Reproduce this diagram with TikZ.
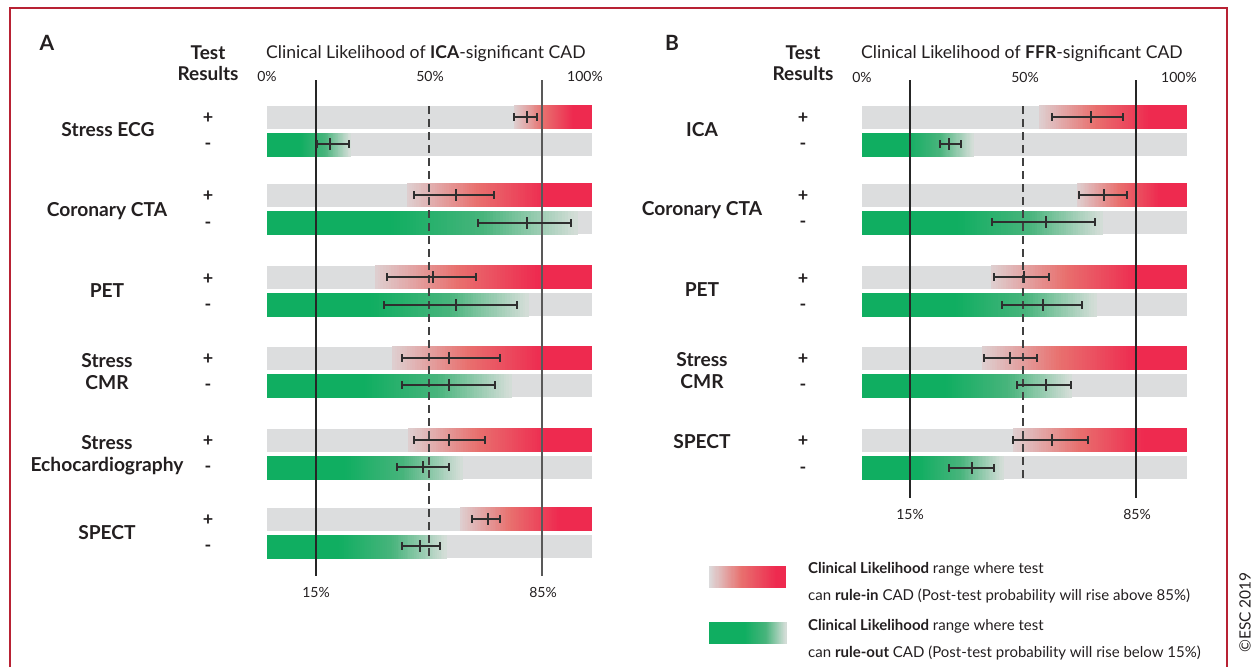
\documentclass[tikz,border=0pt]{standalone}
\usepackage{fontspec}
\setmainfont{Lato}
\definecolor{barg}{HTML}{DCDDDE}
\definecolor{rstart}{HTML}{DED0D1}
\definecolor{rred}{HTML}{EE2A4F}
\definecolor{salm}{HTML}{E8716F}
\definecolor{ggreen}{HTML}{10AE61}
\definecolor{gmid}{HTML}{48B47C}
\definecolor{gendc}{HTML}{D6DED9}
\definecolor{txt}{HTML}{231F20}
\definecolor{bord}{HTML}{B82234}
\definecolor{ebc}{HTML}{2E2E2E}
\tikzset{
  lab/.style={inner sep=0pt, text=txt, font=\fontsize{19.2}{22}\selectfont\bfseries, align=center},
  pm/.style={inner sep=0pt, text=txt, font=\fontsize{18}{20}\selectfont\bfseries, anchor=base},
  pct/.style={inner sep=0pt, text=txt, font=\fontsize{14}{16}\selectfont, anchor=base},
  ttl/.style={inner sep=0pt, text=txt, font=\fontsize{17.6}{19}\selectfont, anchor=base west},
  letter/.style={inner sep=0pt, text=txt, font=\fontsize{21}{24}\selectfont\bfseries, anchor=base},
  legt/.style={inner sep=0pt, text=txt, font=\fontsize{15}{18}\selectfont, anchor=base west},
  eb/.style={draw=ebc, line width=1.1pt},
  vline/.style={line width=1.4pt, draw=black!85},
  vlineb/.style={line width=1.8pt, draw=black!65},
  dline/.style={line width=1.4pt, draw=black!75, dash pattern=on 8pt off 5pt},
}
% horizontal gradient made of thin strips: xa, xb, ytop, ybot, colour at xa, colour at xb
\newcommand{\hgrad}[6]{%
  \foreach \kk in {0,...,29}{%
    \pgfmathsetmacro\gxl{#1+(#2-#1)*\kk/30}%
    \pgfmathsetmacro\gxr{#1+(#2-#1)*(\kk+1)/30+0.6}%
    \pgfmathtruncatemacro\gpp{round(100*(\kk+0.5)/30)}%
    \fill[#6!\gpp!#5] (\gxl,#3) rectangle (\gxr,#4);
  }%
}
\newcommand{\plusbar}[4]{%
  \pgfmathsetmacro\myge{#4+0.75*(#2-#4)}%
  \pgfmathsetmacro\mygm{(#4+\myge)/2}%
  \fill[barg] (#1,#3) rectangle (#2,#3+23);
  \hgrad{#4}{\mygm}{#3-1}{#3+23}{rstart}{salm}
  \hgrad{\mygm}{\myge}{#3-1}{#3+23}{salm}{rred}
  \fill[rred] (\myge,#3-1) rectangle (#2,#3+23);
}
\newcommand{\minusbar}[4]{%
  \pgfmathsetmacro\mygs{#1+0.4*(#4-#1)}%
  \pgfmathsetmacro\mygm{(\mygs+#4)/2}%
  \fill[barg] (#1,#3) rectangle (#2,#3+23);
  \fill[ggreen] (#1,#3) rectangle (\mygs+0.6,#3+24);
  \hgrad{\mygs}{\mygm}{#3}{#3+24}{ggreen}{gmid}
  \hgrad{\mygm}{#4}{#3}{#3+24}{gmid}{gendc}
}
\newcommand{\ebar}[4]{%
  \draw[eb] (#2,#1) -- (#4,#1);
  \draw[eb] (#2,#1-4) -- (#2,#1+4);
  \draw[eb] (#4,#1-4) -- (#4,#1+4);
  \draw[eb] (#3,#1-6) -- (#3,#1+6);
}
\begin{document}
\begin{tikzpicture}[x=1pt,y=-1pt]
\useasboundingbox (0,0) rectangle (1253,667);
% frame
\draw[bord, line width=2.2pt] (10,667) -- (10,8) -- (1227,8) -- (1227,667);
\node[inner sep=0pt, text=txt, font=\fontsize{15.5}{17}\selectfont, rotate=90, anchor=east] (esc) at (1245,572) {©ESC 2019};

% ================= Panel A =================
\node[letter] (la) at (47,50.5) {A};
\node[lab, font=\fontsize{19}{20.5}\selectfont\bfseries] (tra) at (208,63) {Test\\Results};
\node[ttl] (tta) at (266,58) {Clinical Likelihood of \textbf{ICA}-significant CAD};
\node[pct] (a0) at (267,81) {0\%};
\node[pct] (a50) at (430,81) {50\%};
\node[pct] (a100) at (585,81) {100\%};

\plusbar{267}{592}{106}{514}
\minusbar{267}{592}{133}{350}
\plusbar{267}{592}{184}{407}
\minusbar{267}{592}{211}{577}
\plusbar{267}{592}{266}{375}
\minusbar{267}{592}{293}{528}
\plusbar{267}{592}{347}{392}
\minusbar{267}{592}{374}{511}
\plusbar{267}{592}{429}{408}
\minusbar{267}{592}{456}{462}
\plusbar{267}{592}{508}{460}
\minusbar{267}{592}{535}{446}

\coordinate (a15t) at (316,80); \coordinate (a15b) at (316,576);
\coordinate (a85t) at (542,80); \coordinate (a85b) at (542,576);
\coordinate (a50t) at (429,106); \coordinate (a50b) at (429,557);
\draw[vline] (a15t) -- (a15b);
\draw[vlineb] (a85t) -- (a85b);
\draw[dline] (a50t) -- (a50b);

\ebar{117}{514}{527}{537}
\ebar{144}{317}{330}{349}
\ebar{195}{414}{456}{494}
\ebar{223}{478}{527}{571}
\ebar{277}{387}{433}{476}
\ebar{305}{384}{456}{517}
\ebar{358}{402}{449}{500}
\ebar{385}{402}{449}{495}
\ebar{440}{414}{449}{485}
\ebar{467}{397}{423}{449}
\ebar{519}{472}{488}{500}
\ebar{546}{402}{420}{440}

\node[pct] (a15) at (316,597) {15\%};
\node[pct] (a85) at (543,597) {85\%};

\node[lab, anchor=base] (ecg) at (108,136.5) {Stress ECG};
\node[lab, anchor=base] (ctaa) at (107,216.5) {Coronary CTA};
\node[lab, anchor=base] (peta) at (107,297.5) {PET};
\node[lab] (cmra) at (107,372) {Stress\\CMR};
\node[lab] (echo) at (107,455.5) {Stress\\Echocardiography};
\node[lab, anchor=base] (specta) at (107,539.5) {SPECT};

\foreach \yp/\ym [count=\i] in {117/144,195/223,278/305,358/385,440/467,519/546}{
  \node[pm] (ap\i) at (208,\yp+6) {+};
  \node[pm] (am\i) at (208,\ym+5) {-};
}

% ================= Panel B =================
\node[letter] (lb) at (672,50.5) {B};
\node[lab, font=\fontsize{19}{20.5}\selectfont\bfseries] (trb) at (803,63) {Test\\Results};
\node[ttl] (ttb) at (861,58) {Clinical Likelihood of \textbf{FFR}-significant CAD};
\node[pct] (b0) at (862,82) {0\%};
\node[pct] (b50) at (1025,82) {50\%};
\node[pct] (b100) at (1179,82) {100\%};

\plusbar{862}{1187}{106}{1039}
\minusbar{862}{1187}{133}{973}
\plusbar{862}{1187}{184}{1077}
\minusbar{862}{1187}{211}{1102}
\plusbar{862}{1187}{266}{991}
\minusbar{862}{1187}{293}{1096}
\plusbar{862}{1187}{347}{982}
\minusbar{862}{1187}{374}{1071}
\plusbar{862}{1187}{429}{1013}
\minusbar{862}{1187}{456}{1003}

\coordinate (b15t) at (910,80); \coordinate (b15b) at (910,498);
\coordinate (b85t) at (1136,80); \coordinate (b85b) at (1136,498);
\coordinate (b50t) at (1023,106); \coordinate (b50b) at (1023,478);
\draw[vline] (b15t) -- (b15b);
\draw[vline] (b85t) -- (b85b);
\draw[dline] (b50t) -- (b50b);

\ebar{117}{1052}{1091}{1123}
\ebar{144}{940}{949}{961}
\ebar{195}{1079}{1104}{1127}
\ebar{222}{992}{1046}{1095}
\ebar{277}{994}{1024}{1049}
\ebar{305}{1002}{1043}{1082}
\ebar{358}{984}{1010}{1037}
\ebar{385}{1017}{1046}{1071}
\ebar{440}{1013}{1052}{1088}
\ebar{468}{949}{972}{994}

\node[pct] (b15) at (910,519) {15\%};
\node[pct] (b85) at (1137,519) {85\%};

\node[lab, anchor=base] (ica) at (702,136.5) {ICA};
\node[lab, anchor=base] (ctab) at (702,215.5) {Coronary CTA};
\node[lab, anchor=base] (petb) at (702,296.5) {PET};
\node[lab] (cmrb) at (702,371) {Stress\\CMR};
\node[lab, anchor=base] (spectb) at (702,448.5) {SPECT};

\foreach \yp/\ym [count=\i] in {117/144,195/222,278/305,358/385,440/468}{
  \node[pm] (bp\i) at (803,\yp+6) {+};
  \node[pm] (bm\i) at (803,\ym+5) {-};
}

% ================= Legend =================
\hgrad{709}{741}{566}{588}{barg}{salm}
\hgrad{741}{776}{566}{588}{salm}{rred}
\fill[rred] (776,566) rectangle (786,588);
\fill[ggreen] (709,622) rectangle (745.6,644);
\hgrad{745}{766}{622}{644}{ggreen}{gmid}
\hgrad{766}{786}{622}{644}{gmid}{gendc}
\node[legt] (leg1a) at (808,573.5) {\textbf{Clinical Likelihood} range where test};
\node[legt] (leg1b) at (808,600.5) {can \textbf{rule-in} CAD (Post-test probability will rise above 85\%)};
\node[legt] (leg2a) at (808,630.5) {\textbf{Clinical Likelihood} range where test};
\node[legt] (leg2b) at (808,657.5) {can \textbf{rule-out} CAD (Post-test probability will rise below 15\%)};
\end{tikzpicture}
\end{document}
